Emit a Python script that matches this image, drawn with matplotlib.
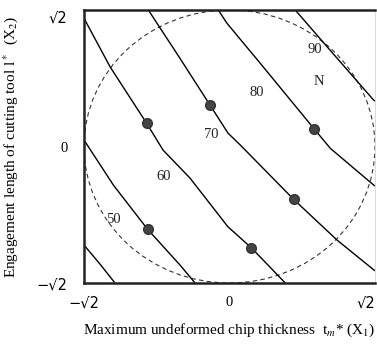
import numpy as np
import matplotlib
matplotlib.use('Agg')
from matplotlib import pyplot as plt
from matplotlib.patches import Circle

R2 = np.sqrt(2)

# contour lines of N (x1, x2 pairs)
levels = [40, 50, 60, 70, 80, 90]
line_x = [
    [-1.414, -1.259, -1.113],
    [-1.414, -1.129, -0.795, -0.481, -0.335],
    [-1.414, -1.161, -0.805, -0.646, -0.384, -0.015, 0.212, 0.542],
    [-0.789, -0.481, -0.190, -0.015, 0.105, 0.624, 1.045, 1.414],
    [-0.109, -0.024, 0.299, 0.824, 0.980, 1.401, 1.414],
    [0.639, 0.948, 1.401, 1.414],
]
line_y = [
    [-1.021, -1.218, -1.414],
    [0.067, -0.399, -0.859, -1.228, -1.414],
    [1.328, 0.826, 0.240, -0.037, -0.327, -0.832, -1.049, -1.414],
    [1.414, 0.913, 0.430, 0.139, 0.015, -0.548, -0.969, -1.288],
    [1.414, 1.276, 0.862, 0.181, -0.019, -0.399, -0.41],
    [1.414, 1.034, 0.481, 0.47],
]

# experimental points
pts_x = [-0.805, -0.190, 0.824, 0.624, 0.212, -0.795]
pts_y = [0.240, 0.430, 0.181, -0.548, -1.049, -0.859]

# contour labels
lab_text = ['50', '60', '70', '80', '90', 'N']
lab_x = [-1.129, -0.643, -0.173, 0.267, 0.834, 0.867]
lab_y = [-0.752, -0.313, 0.129, 0.557, 1.007, 0.678]

plt.rcParams['mathtext.fontset'] = 'stix'

fig = plt.figure(figsize=(3.77, 3.47), dpi=100)
ax = fig.add_axes([0.2228, 0.1844, 0.7719, 0.7868])

for xs, ys in zip(line_x, line_y):
    ax.plot(xs, ys, color='black', lw=1.0, solid_capstyle='butt')

ax.add_patch(Circle((0, 0), R2, fill=False, ls=(0, (4, 3)), lw=0.8,
                    color='#333333'))

ax.plot(pts_x, pts_y, 'o', color='#444444', ms=7, mec='#333333')

for t, x, y in zip(lab_text, lab_x, lab_y):
    ax.text(x, y, t, ha='center', va='center', fontsize=10.5,
            family='Liberation Serif', color='#222222')

ax.set_xlim(-R2, R2)
ax.set_ylim(-R2, R2)
ax.set_xticks([-R2, 0, R2])
ax.set_yticks([-R2, 0, R2])
ax.set_xticklabels(['\u2212\u221a2', '0', '\u221a2'], family='DejaVu Sans')
ax.set_yticklabels(['\u2212\u221a2', '0', '\u221a2'], family='DejaVu Sans')
ax.tick_params(length=0, labelsize=10.5)
ax.tick_params(axis='x', pad=9)
ax.tick_params(axis='y', pad=12)
ax.get_xticklabels()[1].set_family('Liberation Serif')
ax.get_yticklabels()[1].set_family('Liberation Serif')
ax.get_xticklabels()[2].set_ha('right')
ax.get_yticklabels()[2].set_va('top')

for s in ['top', 'left', 'bottom']:
    ax.spines[s].set_linewidth(1.8)
    ax.spines[s].set_color('#222222')
ax.spines['right'].set_linewidth(0.5)
ax.spines['right'].set_color('#cccccc')

ax.set_xlabel('Maximum undeformed chip thickness  t$_m$* (X$_1$)',
              family='Liberation Serif', fontsize=11, labelpad=8)
ax.set_ylabel('Engagement length of cutting tool l$^*$  (X$_2$)',
              family='Liberation Serif', fontsize=11, labelpad=12)

fig.savefig('out.png', dpi=100)
